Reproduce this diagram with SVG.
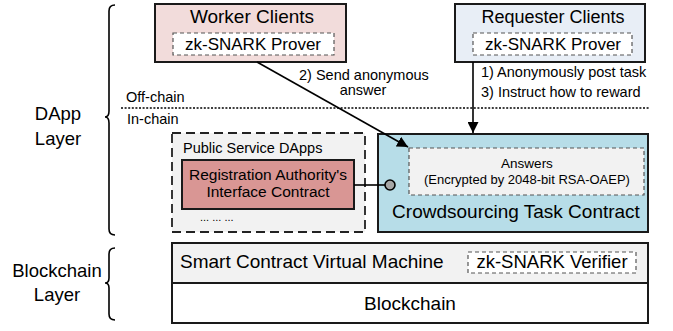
<svg xmlns="http://www.w3.org/2000/svg" width="673" height="331" viewBox="0 0 673 331">
<defs>
<marker id="ah" viewBox="0 0 10 10" refX="10" refY="5" markerWidth="11" markerHeight="11" markerUnits="userSpaceOnUse" orient="auto">
<path d="M0,0 L10,5 L0,10 z" fill="#000"/>
</marker>
<style>
text{font-family:"Liberation Sans",Arial,sans-serif;fill:#000}
.box{stroke:#1a1a1a;stroke-width:2}
.dash{fill:#fff;stroke:#555;stroke-width:1.2;stroke-dasharray:4,3}
.brace{fill:none;stroke:#000;stroke-width:1.6}
.conn{fill:none;stroke:#000;stroke-width:1.6}
</style>
</defs>
<rect width="673" height="331" fill="#fff"/>

<g id="dapp-layer-label">
<path class="brace" d="M115,5 Q109,5 109,11 L109,111 Q109,117 105,117 Q109,117 109,123 L109,229 Q109,235 115,235"/>
<text x="58" y="120" font-size="18.5" text-anchor="middle">DApp</text>
<text x="58" y="145" font-size="18.5" text-anchor="middle">Layer</text>
</g>

<g id="blockchain-layer-label">
<path class="brace" d="M115,248 Q109,248 109,254 L109,278 Q109,283 105,283 Q109,283 109,288 L109,314 Q109,320 115,320"/>
<text x="57" y="277" font-size="18.5" text-anchor="middle">Blockchain</text>
<text x="57" y="301" font-size="18.5" text-anchor="middle">Layer</text>
</g>

<g id="chain-divider">
<line x1="121" y1="108" x2="650" y2="108" stroke="#000" stroke-width="1.3" stroke-dasharray="2,1.6"/>
<text x="126" y="102" font-size="14.5">Off-chain</text>
<text x="127" y="124" font-size="14.5">In-chain</text>
</g>

<g id="worker-clients">
<rect class="box" x="155" y="4" width="191" height="58" fill="#f2dcdb"/>
<text x="252" y="23" font-size="19" text-anchor="middle">Worker Clients</text>
<rect class="dash" x="173" y="33" width="161" height="22"/>
<text x="253" y="50" font-size="17" text-anchor="middle">zk-SNARK Prover</text>
</g>

<g id="requester-clients">
<rect class="box" x="455" y="4" width="190" height="58" fill="#e8eef6"/>
<text x="553" y="23" font-size="18" text-anchor="middle">Requester Clients</text>
<rect class="dash" x="473" y="33" width="159" height="22"/>
<text x="553" y="50" font-size="17" text-anchor="middle">zk-SNARK Prover</text>
</g>

<g id="public-service-dapps">
<rect x="172" y="133" width="193" height="99" fill="#f2f2f2" stroke="#222" stroke-width="1.8" stroke-dasharray="9,5"/>
<text x="183" y="153" font-size="14.5">Public Service DApps</text>
<text x="200" y="221" font-size="11">... ... ...</text>
</g>

<g id="registration-authority">
<rect class="box" x="182" y="160" width="172" height="49" fill="#d99694"/>
<text x="268" y="180" font-size="15.5" text-anchor="middle">Registration Authority's</text>
<text x="268" y="197" font-size="15.5" text-anchor="middle">Interface Contract</text>
</g>

<g id="crowdsourcing-task-contract">
<rect class="box" x="378" y="134" width="270" height="98" fill="#b7dde8"/>
<rect x="409" y="148" width="235" height="47" fill="#f2f2f2" stroke="#555" stroke-width="1.2" stroke-dasharray="4,3"/>
<text x="527" y="168" font-size="13.5" text-anchor="middle">Answers</text>
<text x="527" y="184" font-size="13" text-anchor="middle">(Encrypted by 2048-bit RSA-OAEP)</text>
<text x="516" y="218" font-size="19" text-anchor="middle">Crowdsourcing Task Contract</text>
</g>

<g id="smart-contract-vm">
<rect class="box" x="172" y="243" width="476" height="40" fill="#f2f2f2"/>
<text x="180" y="268" font-size="19">Smart Contract Virtual Machine</text>
<rect class="dash" x="468" y="252" width="168" height="21"/>
<text x="552" y="268" font-size="18.5" text-anchor="middle">zk-SNARK Verifier</text>
</g>

<g id="blockchain">
<rect class="box" x="172" y="283" width="476" height="40" fill="#fff"/>
<text x="410" y="310" font-size="19" text-anchor="middle">Blockchain</text>
</g>

<g id="connectors">
<line class="conn" x1="257" y1="62" x2="408" y2="147" marker-end="url(#ah)"/>
<text x="299" y="80" font-size="14.5">2) Send anonymous</text>
<text x="363" y="95" font-size="14.5" text-anchor="middle">answer</text>
<line class="conn" x1="473" y1="62" x2="473" y2="133" marker-end="url(#ah)"/>
<text x="481" y="77" font-size="14.5">1) Anonymously post task</text>
<text x="481" y="97" font-size="14.5">3) Instruct how to reward</text>
<line class="conn" x1="354" y1="185" x2="386" y2="185"/>
<circle cx="390" cy="185" r="5" fill="#a6a6a6" stroke="#000" stroke-width="1.6"/>
</g>
</svg>
